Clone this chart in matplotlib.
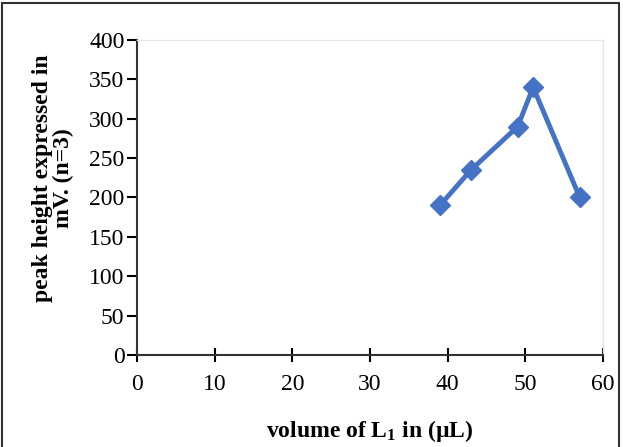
import matplotlib
matplotlib.use("Agg")
import matplotlib.pyplot as plt
from matplotlib.patches import Rectangle

volume = [39, 43, 49, 51, 57]
peak_height = [190, 235, 290, 340, 200]
x_ticks = [0, 10, 20, 30, 40, 50, 60]
y_ticks = [0, 50, 100, 150, 200, 250, 300, 350, 400]

plt.rcParams['font.family'] = ['Liberation Serif', 'DejaVu Serif']
plt.rcParams['mathtext.fontset'] = 'custom'
plt.rcParams['mathtext.rm'] = 'Liberation Serif'
plt.rcParams['mathtext.bf'] = 'Liberation Serif:bold'

fig = plt.figure(figsize=(6.23, 4.47), dpi=100)
ax = fig.add_axes([0.22, 0.206, 0.748, 0.7045])

ax.plot(volume, peak_height, color='#4472C4', lw=3.5, marker='D', ms=10,
        markerfacecolor='#4472C4', markeredgecolor='#4472C4')

ax.set_xlim(0, 60)
ax.set_ylim(0, 400)
ax.set_xticks(x_ticks)
ax.set_yticks(y_ticks)
ax.tick_params(axis='both', labelsize=17, width=1.5)
ax.tick_params(axis='y', direction='out', length=7, pad=2)
ax.tick_params(axis='x', direction='inout', length=10, pad=9)

for s in ['top', 'right']:
    ax.spines[s].set_color('#e6e6e6')
    ax.spines[s].set_linewidth(1)
for s in ['left', 'bottom']:
    ax.spines[s].set_color('#333333')
    ax.spines[s].set_linewidth(1.5)

ax.set_xlabel('volume of L$\\mathbf{_1}$ in (µL)', fontsize=17, fontweight='bold', labelpad=16)
ax.set_ylabel('peak height expressed in\nmV. (n=3)', fontsize=17, fontweight='bold',
              linespacing=1.0)
ax.yaxis.set_label_coords(-0.135, 0.56)

fig.patches.append(Rectangle((0.004, -0.01), 0.99, 1.004, transform=fig.transFigure,
                             fill=False, edgecolor='#333333', lw=1.5))

fig.savefig('out.png', dpi=100)
